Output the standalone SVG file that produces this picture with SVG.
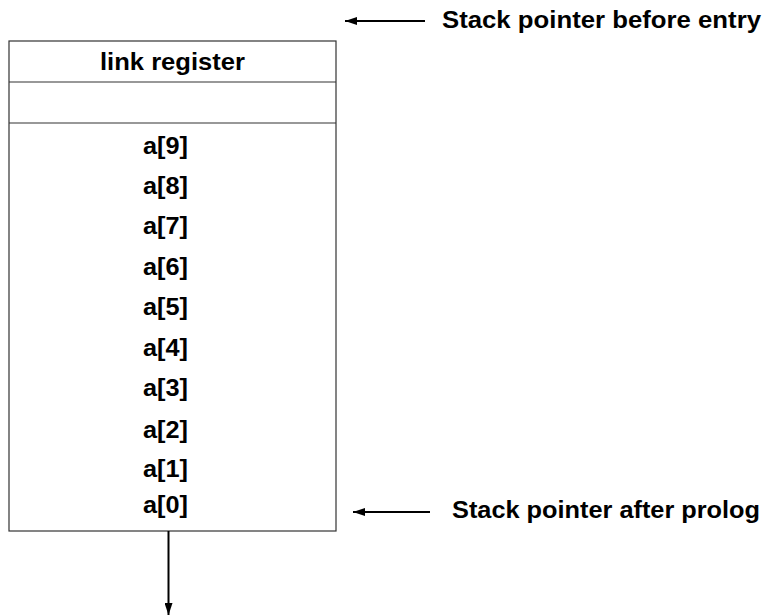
<svg xmlns="http://www.w3.org/2000/svg" width="767" height="616" viewBox="0 0 767 616">
<style>
text{font-family:"Liberation Sans",Arial,sans-serif;font-weight:bold;font-size:24px;fill:#000}
.box{fill:#fff;stroke:#333;stroke-width:1.2}
.conn{stroke:#000;stroke-width:2;fill:none}
</style>
<defs>
<marker id="ah" viewBox="0 0 12 8" refX="12" refY="4" markerWidth="12" markerHeight="8" markerUnits="userSpaceOnUse" orient="auto">
<path d="M0,0 L12,4 L0,8 Z" fill="#000"/>
</marker>
</defs>
<rect width="767" height="616" fill="#fff"/>
<g id="stack">
<rect class="box" x="9" y="41" width="327" height="490"/>
<line class="box" x1="9" y1="82" x2="336" y2="82"/>
<line class="box" x1="9" y1="123" x2="336" y2="123"/>
</g>
<g id="link-register"><text x="172.5" y="70" text-anchor="middle" textLength="145" lengthAdjust="spacingAndGlyphs">link register</text></g>
<g id="a9"><text x="143" y="154" textLength="45" lengthAdjust="spacingAndGlyphs">a[9]</text></g>
<g id="a8"><text x="143" y="194" textLength="45" lengthAdjust="spacingAndGlyphs">a[8]</text></g>
<g id="a7"><text x="143" y="234" textLength="45" lengthAdjust="spacingAndGlyphs">a[7]</text></g>
<g id="a6"><text x="143" y="275" textLength="45" lengthAdjust="spacingAndGlyphs">a[6]</text></g>
<g id="a5"><text x="143" y="315" textLength="45" lengthAdjust="spacingAndGlyphs">a[5]</text></g>
<g id="a4"><text x="143" y="356" textLength="45" lengthAdjust="spacingAndGlyphs">a[4]</text></g>
<g id="a3"><text x="143" y="396" textLength="45" lengthAdjust="spacingAndGlyphs">a[3]</text></g>
<g id="a2"><text x="143" y="438" textLength="45" lengthAdjust="spacingAndGlyphs">a[2]</text></g>
<g id="a1"><text x="143" y="477" textLength="45" lengthAdjust="spacingAndGlyphs">a[1]</text></g>
<g id="a0"><text x="143" y="513" textLength="45" lengthAdjust="spacingAndGlyphs">a[0]</text></g>
<g id="sp-before"><text x="442" y="28" textLength="319" lengthAdjust="spacingAndGlyphs">Stack pointer before entry</text></g>
<g id="sp-after"><text x="452" y="518" textLength="308" lengthAdjust="spacingAndGlyphs">Stack pointer after prolog</text></g>
<g id="connectors">
<line class="conn" x1="425" y1="21" x2="345" y2="21" marker-end="url(#ah)"/>
<line class="conn" x1="430" y1="512" x2="353" y2="512" marker-end="url(#ah)"/>
<line class="conn" x1="168.5" y1="531" x2="168.5" y2="615" marker-end="url(#ah)"/>
</g>
</svg>
